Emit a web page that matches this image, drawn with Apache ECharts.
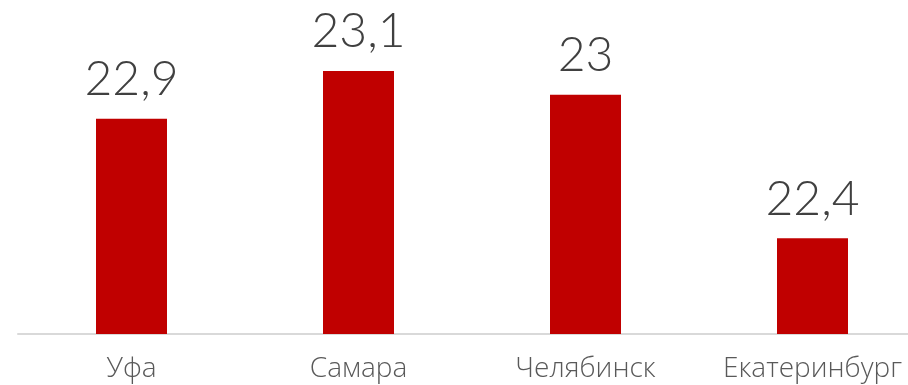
<!DOCTYPE html>
<html>
<head>
<meta charset="utf-8">
<script src="https://cdn.jsdelivr.net/npm/echarts@6/dist/echarts.min.js"></script>
<style>
  html, body { margin: 0; padding: 0; background: #ffffff; overflow: hidden; }
  /* the plot runs slightly past the right edge of the window */
  #chart { width: 926px; height: 385px; }
</style>
</head>
<body>
<div id="chart"></div>
<script>
// Cities and their values
const categories = ['Уфа', 'Самара', 'Челябинск', 'Екатеринбург'];
const values = [22.9, 23.1, 23, 22.4];

const chart = echarts.init(document.getElementById('chart'));
chart.setOption({
  animation: false,
  backgroundColor: '#ffffff',
  grid: { left: 18, top: 47, bottom: 51, right: 0 },
  xAxis: {
    type: 'category',
    data: categories,
    axisLine: { show: true, lineStyle: { color: '#d9d9d9', width: 2 } },
    axisTick: { show: false },
    axisLabel: {
      interval: 0,
      hideOverlap: false,
      color: '#595959',
      fontFamily: '"Open Sans", Lato, sans-serif',
      fontWeight: 300,
      fontSize: 28,
      margin: 21
    }
  },
  yAxis: {
    type: 'value',
    min: 22,
    max: 23.2,
    show: false,
    splitLine: { show: false }
  },
  series: [{
    type: 'bar',
    data: values,
    barWidth: 71,
    itemStyle: { color: '#c00000' },
    label: {
      show: true,
      position: 'top',
      distance: 15,
      color: '#404040',
      fontFamily: 'Lato, "Open Sans", sans-serif',
      fontWeight: 300,
      fontSize: 48,
      formatter: p => String(p.value).replace('.', ',')
    }
  }]
});
</script>
</body>
</html>
